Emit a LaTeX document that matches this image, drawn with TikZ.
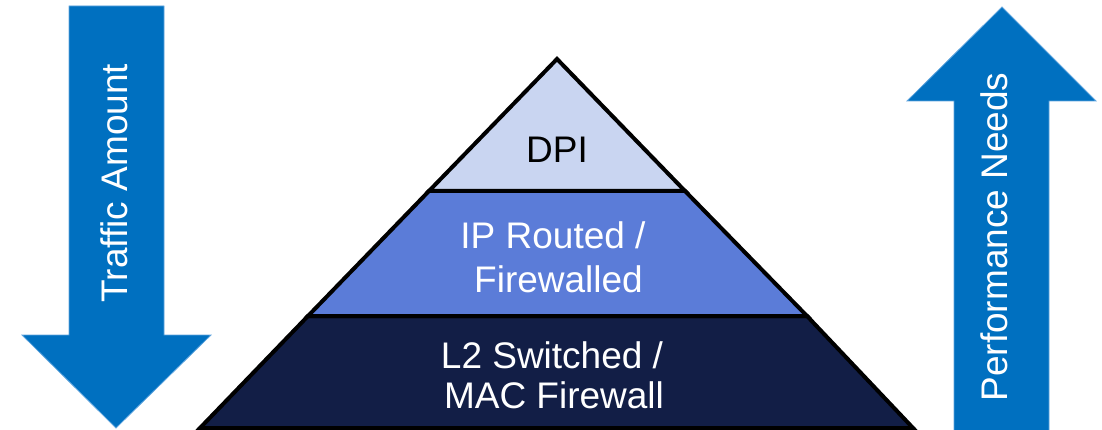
\documentclass[tikz,border=0pt]{standalone}
\usepackage{fontspec}
\setmainfont{Liberation Sans}
\definecolor{arrowblue}{HTML}{0070C0}
\definecolor{arrowedge}{HTML}{5FA4DE}
\definecolor{toplayer}{HTML}{C9D5F1}
\definecolor{midlayer}{HTML}{5B7CD8}
\definecolor{botlayer}{HTML}{121E46}
\begin{document}
\begin{tikzpicture}[x=1pt,y=-1pt,
  bigarrow/.style={fill=arrowblue,draw=arrowedge,line width=0.8pt},
  layer/.style={draw=black,line width=4pt,line join=miter},
  lbl/.style={font=\fontsize{37}{44}\selectfont,inner sep=0pt,align=center}]
\useasboundingbox (0,0) rectangle (1102,430);
% arrows
\draw[bigarrow] (69,6) -- (164,6) -- (164,335) -- (211,335) -- (116,428) -- (22,335) -- (69,335) -- cycle;
\draw[bigarrow] (1002,7) -- (1096,101) -- (1049,101) -- (1049,432) -- (954,432) -- (954,101) -- (907,101) -- cycle;
% pyramid layers
\coordinate (apex) at (557,59);
\coordinate (dl) at (429,191);
\coordinate (dr) at (685,191);
\coordinate (ml) at (308,316);
\coordinate (mr) at (807,316);
\coordinate (bl) at (200,428);
\coordinate (br) at (913,428);
\filldraw[layer,fill=botlayer] (ml) -- (mr) -- (br) -- (bl) -- cycle;
\filldraw[layer,fill=midlayer] (dl) -- (dr) -- (mr) -- (ml) -- cycle;
\filldraw[layer,fill=toplayer] (apex) -- (dr) -- (dl) -- cycle;
% labels
\node[lbl,anchor=base] (dpi) at (557,163) {DPI};
\node[lbl,anchor=base,text=white] (ip) at (553,248) {IP Routed /};
\node[lbl,anchor=base,text=white] (fw) at (558.5,292) {Firewalled};
\node[lbl,anchor=base,text=white] (l2) at (552,368) {L2 Switched /};
\node[lbl,anchor=base,text=white] (mac) at (554,408) {MAC Firewall};
\node[lbl,text=white,rotate=90] (traffic) at (114,183) {Traffic Amount};
\node[lbl,text=white,rotate=90] (perf) at (994,237) {Performance Needs};
\end{tikzpicture}
\end{document}
